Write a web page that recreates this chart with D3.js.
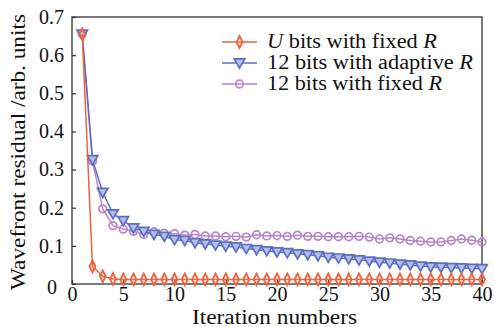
<!DOCTYPE html>
<html>
<head>
<meta charset="utf-8">
<script src="https://cdn.jsdelivr.net/npm/d3@7"></script>
<style>
  body { margin: 0; background: #fff; }
  svg text { font-family: "Liberation Serif", "Times New Roman", serif; fill: #111; }
</style>
</head>
<body>
<div id="chart"></div>
<script>
const iterations = d3.range(1, 41);

const uBitsFixed = [0.655, 0.046, 0.020, 0.013, 0.012, 0.012, 0.012, 0.012, 0.012, 0.012,
  0.012, 0.012, 0.012, 0.012, 0.012, 0.012, 0.012, 0.012, 0.012, 0.012,
  0.012, 0.012, 0.012, 0.012, 0.012, 0.012, 0.012, 0.012, 0.012, 0.012,
  0.012, 0.012, 0.012, 0.012, 0.012, 0.012, 0.012, 0.012, 0.012, 0.012];

const bits12Adaptive = [0.655, 0.326, 0.240, 0.184, 0.166, 0.147, 0.138, 0.130, 0.125, 0.116,
  0.114, 0.108, 0.105, 0.102, 0.099, 0.097, 0.093, 0.090, 0.087, 0.084,
  0.082, 0.079, 0.077, 0.074, 0.070, 0.068, 0.066, 0.063, 0.060, 0.057,
  0.055, 0.052, 0.050, 0.047, 0.045, 0.044, 0.043, 0.042, 0.041, 0.040];

const bits12Fixed = [0.655, 0.322, 0.197, 0.153, 0.144, 0.138, 0.130, 0.137, 0.133, 0.132,
  0.128, 0.130, 0.126, 0.126, 0.124, 0.125, 0.123, 0.129, 0.126, 0.127,
  0.125, 0.128, 0.125, 0.125, 0.124, 0.124, 0.124, 0.125, 0.123, 0.118,
  0.121, 0.118, 0.114, 0.112, 0.110, 0.110, 0.114, 0.118, 0.115, 0.110];

const xTicks = [0, 5, 10, 15, 20, 25, 30, 35, 40];
const yTicks = [0, 0.1, 0.2, 0.3, 0.4, 0.5, 0.6, 0.7];

const width = 494, height = 327;
const margin = {top: 17, right: 12, bottom: 43, left: 72};
const innerW = width - margin.left - margin.right;
const innerH = height - margin.top - margin.bottom;
const fontSize = 20;

const svg = d3.select("#chart").append("svg")
    .attr("width", width)
    .attr("height", height);

const g = svg.append("g")
    .attr("transform", `translate(${margin.left},${margin.top})`);

const x = d3.scaleLinear().domain([0, 40]).range([0, innerW]);
const y = d3.scaleLinear().domain([0, 0.7]).range([innerH, 0]);

// axes, ticks pointing inward
const xAxis = g.append("g")
    .attr("transform", `translate(0,${innerH})`)
    .call(d3.axisBottom(x).tickValues(xTicks).tickSizeInner(-4).tickSizeOuter(0).tickPadding(5));
const yAxis = g.append("g")
    .call(d3.axisLeft(y).tickValues(yTicks).tickSizeInner(-4).tickSizeOuter(0).tickPadding(8)
      .tickFormat(d => d === 0 ? "0" : d3.format(".1f")(d)));

[xAxis, yAxis].forEach(a => {
  a.select(".domain").remove();
  a.selectAll(".tick line").attr("stroke", "#333").attr("stroke-width", 1.2);
  a.selectAll(".tick text").attr("font-size", fontSize).attr("font-family", null).attr("fill", "#111");
});
xAxis.selectAll(".tick text").attr("dy", "0.62em");
yAxis.selectAll(".tick").filter(d => d === 0).select("text").attr("dx", -7).attr("dy", "0.45em");

g.append("rect")
    .attr("width", innerW)
    .attr("height", innerH)
    .attr("fill", "none")
    .attr("stroke", "#333")
    .attr("stroke-width", 1.3);

const series = [
  {key: "fixed12", values: bits12Fixed, color: "#b985c9", marker: "circle", fill: "none"},
  {key: "adaptive12", values: bits12Adaptive, color: "#5b6fc2", marker: "triangle", fill: "#b4bfe8"},
  {key: "fixedU", values: uBitsFixed, color: "#f0613c", marker: "diamond", fill: "none"}
];

const line = d3.line()
    .x((d, i) => x(iterations[i]))
    .y(d => y(d));

const symbols = {
  circle: d3.symbol().type(d3.symbolCircle).size(46),
  triangle: d3.symbol().type(d3.symbolTriangle).size(48),
  diamond: d3.symbol().type(d3.symbolDiamond).size(30)
};

function drawMarker(sel, s) {
  const p = sel.append("path")
      .attr("d", symbols[s.marker]())
      .attr("fill", s.fill === "none" ? "#fff" : s.fill)
      .attr("fill-opacity", s.fill === "none" ? 0 : 1)
      .attr("stroke", s.color)
      .attr("stroke-width", 1.7);
  if (s.marker === "triangle") p.attr("transform", "rotate(180) translate(0,1)");
  if (s.marker === "diamond") p.attr("transform", "scale(1,1.15)").attr("stroke-width", 1.8);
  return p;
}

series.forEach(s => {
  g.append("path")
      .datum(s.values)
      .attr("fill", "none")
      .attr("stroke", s.color)
      .attr("stroke-width", 1.5)
      .attr("d", line);
  g.append("g").selectAll("g")
      .data(s.values)
      .join("g")
      .attr("transform", (d, i) => `translate(${x(iterations[i])},${y(d)})`)
      .each(function() { drawMarker(d3.select(this), s); });
});

// axis titles (the original face is wider than Liberation Serif, so stretch to match)
svg.append("text")
    .attr("x", 192)
    .attr("y", 324)
    .attr("font-size", fontSize)
    .attr("textLength", 165)
    .attr("lengthAdjust", "spacingAndGlyphs")
    .text("Iteration numbers");

svg.append("text")
    .attr("transform", `translate(25,290) rotate(-90)`)
    .attr("font-size", fontSize)
    .attr("textLength", 276)
    .attr("lengthAdjust", "spacingAndGlyphs")
    .text("Wavefront residual /arb. units");

// legend
const legendItems = [
  {s: series[2], pre: "U", rest: " bits with fixed ", w: 170},
  {s: series[1], pre: "", rest: "12 bits with adaptive ", w: 206},
  {s: series[0], pre: "", rest: "12 bits with fixed ", w: 175}
];
const legend = svg.append("g").attr("transform", "translate(222,42)");
legendItems.forEach((it, i) => {
  const row = legend.append("g").attr("transform", `translate(0,${i * 21})`);
  row.append("line").attr("x1", 0).attr("x2", 35).attr("stroke", it.s.color).attr("stroke-width", 1.5);
  drawMarker(row.append("g").attr("transform", "translate(17.5,0)"), it.s);
  const t = row.append("text").attr("x", 45).attr("y", 6).attr("font-size", fontSize)
      .attr("textLength", it.w).attr("lengthAdjust", "spacingAndGlyphs");
  if (it.pre) t.append("tspan").attr("font-style", "italic").text(it.pre);
  t.append("tspan").text(it.rest);
  t.append("tspan").attr("font-style", "italic").text("R");
});
</script>
</body>
</html>
